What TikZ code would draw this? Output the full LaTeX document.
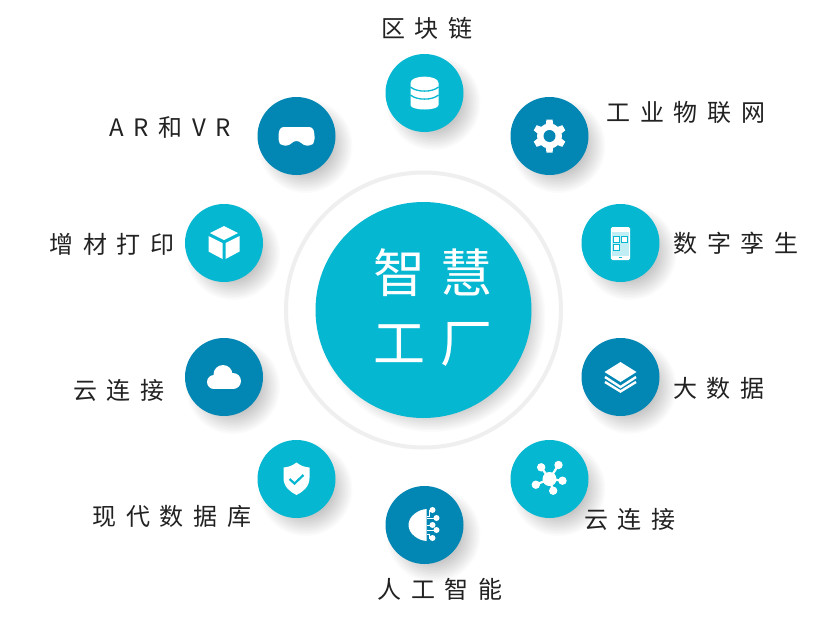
\documentclass[tikz,border=0pt]{standalone}
\usepackage{fontspec}
\newfontfamily\cjk[LetterSpace=40]{Noto Sans CJK SC}
\newfontfamily\cjkmid[LetterSpace=18]{Noto Sans CJK SC}
\newfontfamily\cjkbig[LetterSpace=29]{Noto Sans CJK SC}
\definecolor{teal1}{HTML}{06B7D1}
\definecolor{blue1}{HTML}{0286B4}
\definecolor{ring}{HTML}{EFEFEF}
\definecolor{ink}{HTML}{222222}
\tikzset{
  disc/.style={circle,inner sep=0pt,minimum size=78pt,fill=#1},
  lab/.style={inner sep=0pt,text=ink,font=\cjk\fontsize{24}{24}\selectfont},
  big/.style={inner sep=0pt,text=white,font=\cjkbig\fontsize{52}{52}\selectfont},
}
\newcommand{\softshadow}[3]{% x,y,radius
  \foreach \k in {0,1,...,13}{
    \fill[black,opacity=0.017] (#1,#2) circle ({#3+10-1.5*\k});
  }
}
\begin{document}
\begin{tikzpicture}[x=1pt,y=-1pt]
\useasboundingbox (0,0) rectangle (825,627);
\fill[white] (0,0) rectangle (825,627);
% ring and hub
\draw[ring,line width=4pt] (423.5,310) circle (137.5);
\softshadow{431.5}{318}{104}
\node[circle,inner sep=0pt,minimum size=216pt,fill=teal1] (hub) at (423.5,310) {};
\node[big] (t1) at (433,273) {智慧};
\node[big] (t2) at (433,344) {工厂};
% shadows
\foreach \x/\y in {424.5/93,549.5/136,296.5/136,224/243,620.5/243,224/377,620.5/377,296.5/479,549.5/479,424.5/525}{
  \softshadow{\x+9}{\y+10}{37}
}
% discs
\node[disc=teal1] (a) at (424.5,93) {};
\node[disc=blue1] (b) at (549.5,136) {};
\node[disc=blue1] (c) at (296.5,136) {};
\node[disc=teal1] (d) at (224,243) {};
\node[disc=teal1] (e) at (620.5,243) {};
\node[disc=blue1] (f) at (224,377) {};
\node[disc=blue1] (g) at (620.5,377) {};
\node[disc=teal1] (h) at (296.5,479) {};
\node[disc=teal1] (i) at (549.5,479) {};
\node[disc=blue1] (j) at (424.5,525) {};
% database
\begin{scope}[shift={(a.center)}]
  \fill[white] (-14,-10) .. controls (-14,-18.5) and (14,-18.5) .. (14,-10) -- (14,12) .. controls (14,18) and (-14,18) .. (-14,12) -- cycle;
  \draw[teal1,line width=1.3pt] (-14,-6) .. controls (-8,-0.5) and (8,-0.5) .. (14,-6);
  \draw[teal1,line width=1.3pt] (-14,2) .. controls (-8,7.5) and (8,7.5) .. (14,2);
\end{scope}
% gear
\begin{scope}[shift={(b.center)}]
  \fill[white] (0,0) circle (12.5);
  \foreach \r in {90,150,210,270,330,30}{
    \begin{scope}[rotate=\r]
      \fill[white] (10,-4) -- (16.5,-3) -- (16.5,3) -- (10,4) -- cycle;
    \end{scope}
  }
  \fill[blue1] (0,0) circle (6);
\end{scope}
% goggles
\begin{scope}[shift={(c.center)}]
  \fill[white,rounded corners=3pt] (-18,-3) -- (-16,-9) -- (16,-9) -- (18,-3) -- (18,6) -- (15,9.5) -- (7,9.5) -- (3,5) -- (-3,5) -- (-7,9.5) -- (-15,9.5) -- (-18,6) -- cycle;
\end{scope}
% cube
\begin{scope}[shift={(d.center)}]
  \fill[white] (0,-17) -- (14,-10) -- (0,-3) -- (-14,-10) -- cycle;
  \fill[white] (-15.5,-7) -- (-1.5,0) -- (-1.5,16) -- (-15.5,8.5) -- cycle;
  \fill[white] (15.5,-7) -- (1.5,0) -- (1.5,16) -- (15.5,8.5) -- cycle;
\end{scope}
% phone
\begin{scope}[shift={(e.center)}]
  \fill[white,rounded corners=1.5pt] (-9.7,-16) rectangle (9.7,17);
  \fill[teal1!25!white] (-8.3,-11.5) rectangle (8.3,12.5);
  \draw[teal1,line width=1.1pt,fill=white] (-7,-6.5) rectangle (-1,-0.5);
  \draw[teal1,line width=1.1pt,fill=white] (0.7,-6.5) rectangle (6.7,-0.5);
  \draw[teal1,line width=1.1pt,fill=white] (-7,1.5) rectangle (-1,7.5);
  \fill[teal1] (-1.5,14) rectangle (1.5,15);
\end{scope}
% cloud
\begin{scope}[shift={(f.center)}]
  \fill[white] (-10,5) circle (7) (-1,-2.5) circle (9.5) (9,4) circle (8);
  \fill[white] (-10,3) rectangle (9,12);
\end{scope}
% layers
\begin{scope}[shift={(g.center)}]
  \fill[white] (0,-15) -- (16,-5) -- (0,5) -- (-16,-5) -- cycle;
  \draw[white,line width=2.4pt] (-15.5,0) -- (0,10) -- (15.5,0);
  \draw[white,line width=2.4pt] (-15.5,5) -- (0,14.5) -- (15.5,5);
\end{scope}
% shield
\begin{scope}[shift={(h.center)}]
  \fill[white] (0,-16.5) .. controls (5,-12.5) and (9,-12) .. (13,-11.5) -- (13,-1) .. controls (13,8) and (6,13) .. (0,16) .. controls (-6,13) and (-13,8) .. (-13,-1) -- (-13,-11.5) .. controls (-9,-12) and (-5,-12.5) .. (0,-16.5) -- cycle;
  \draw[teal1,line width=2.2pt] (-7,0) -- (-2,4.5) -- (7,-4);
\end{scope}
% network
\begin{scope}[shift={(i.center)}]
  \draw[white,line width=2.2pt] (0,0) -- (-8.3,-11.7) (0,0) -- (9,-14) (0,0) -- (13,1.7) (0,0) -- (3.7,11.7) (0,0) -- (-13.7,5.7);
  \fill[white] (0,0) circle (7);
  \fill[white] (-8.3,-11.7) circle (4.2) (9,-14) circle (4.2) (13,1.7) circle (4.2) (3.7,11.7) circle (4.2) (-13.7,5.7) circle (4.2);
\end{scope}
% brain
\begin{scope}[shift={(j.center)}]
  \fill[white] (2,-16) .. controls (-6,-15.5) and (-16,-9) .. (-16,0) .. controls (-16,9) and (-6,15.5) .. (2,16) -- cycle;
  \draw[white,line width=0.8pt] (2,-9) -- (5,-9) -- (5,-15) -- (8,-15) (2,-7) -- (12,-7) (2,0) -- (8,0) (2,5) -- (12,5) (2,9) -- (5,9) -- (5,13) -- (8,13);
  \fill[white] (8,-15) circle (3) (12,-7) circle (3) (8,0) circle (3) (12,5) circle (3) (8,13) circle (3);
\end{scope}
% labels
\node[lab] (l1) at (427,28) {区块链};
\node[lab] (l2) at (686,112) {工业物联网};
\node[lab] (l3) at (170,127) {\cjkmid\fontsize{24}{24}\selectfont A R 和 V R};
\node[lab] (l4) at (112,244) {增材打印};
\node[lab] (l5) at (119,390) {云连接};
\node[lab] (l6) at (736,243) {数字孪生};
\node[lab] (l7) at (719,388) {大数据};
\node[lab] (l8) at (172,516) {现代数据库};
\node[lab] (l9) at (630,519) {云连接};
\node[lab] (l10) at (440,589) {人工智能};
\end{tikzpicture}
\end{document}
